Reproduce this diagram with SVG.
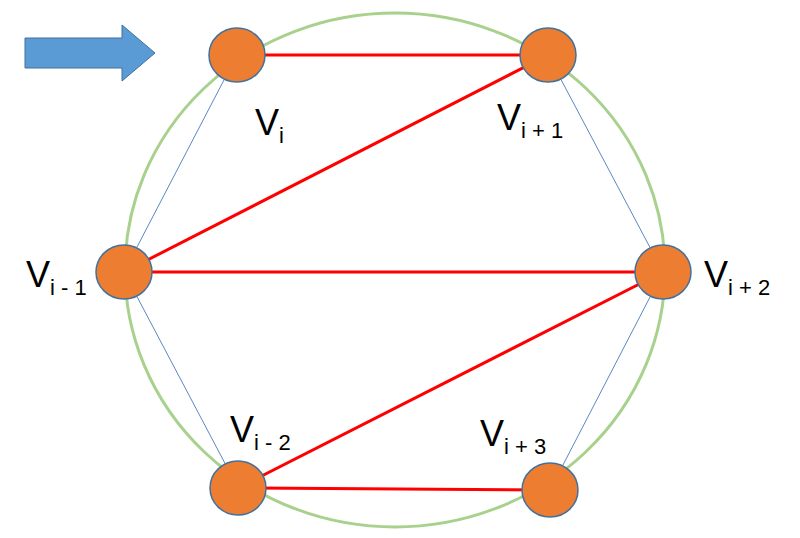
<svg xmlns="http://www.w3.org/2000/svg" width="800" height="538" viewBox="0 0 800 538">
<style>
.n{fill:#ed7d31;stroke:#41719c;stroke-width:1.5}
.r{stroke:#ff0000;stroke-width:3;fill:none}
.b{stroke:#5b87c5;stroke-width:1;fill:none}
text{font-family:"Liberation Sans",Arial,sans-serif;font-size:36px;fill:#000}
.s{font-size:22px}
</style>
<rect width="800" height="538" fill="#fff"/>
<ellipse cx="395" cy="270" rx="270" ry="257" fill="none" stroke="#a9d18e" stroke-width="3"/>
<polygon points="25,38 122,38 122,25 155,53 122,81 122,68 25,68" fill="#5b9bd5" stroke="#41719c" stroke-width="1"/>
<g id="connectors">
<line class="b" x1="237" y1="55" x2="124" y2="272"/>
<line class="b" x1="124" y1="272" x2="238" y2="488"/>
<line class="b" x1="548" y1="55" x2="663" y2="272"/>
<line class="b" x1="663" y1="272" x2="550" y2="490"/>
<line class="r" x1="237" y1="55" x2="548" y2="55"/>
<line class="r" x1="548" y1="55" x2="124" y2="272"/>
<line class="r" x1="124" y1="272" x2="663" y2="272"/>
<line class="r" x1="663" y1="272" x2="238" y2="488"/>
<line class="r" x1="238" y1="488" x2="550" y2="490"/>
</g>
<g id="vi"><ellipse class="n" cx="237" cy="55" rx="28" ry="27"/><text x="255" y="135">V<tspan class="s" dy="8">i</tspan></text></g>
<g id="vi1"><ellipse class="n" cx="548" cy="55" rx="28" ry="27"/><text x="497" y="130">V<tspan class="s" dy="8">i + 1</tspan></text></g>
<g id="vim1"><ellipse class="n" cx="124" cy="272" rx="28" ry="27"/><text x="26" y="287">V<tspan class="s" dy="8">i - 1</tspan></text></g>
<g id="vi2"><ellipse class="n" cx="663" cy="272" rx="28" ry="27"/><text x="704" y="287">V<tspan class="s" dy="8">i + 2</tspan></text></g>
<g id="vim2"><ellipse class="n" cx="238" cy="488" rx="28" ry="27"/><text x="230" y="442">V<tspan class="s" dy="8">i - 2</tspan></text></g>
<g id="vi3"><ellipse class="n" cx="550" cy="490" rx="28" ry="27"/><text x="480" y="446">V<tspan class="s" dy="8">i + 3</tspan></text></g>
</svg>
